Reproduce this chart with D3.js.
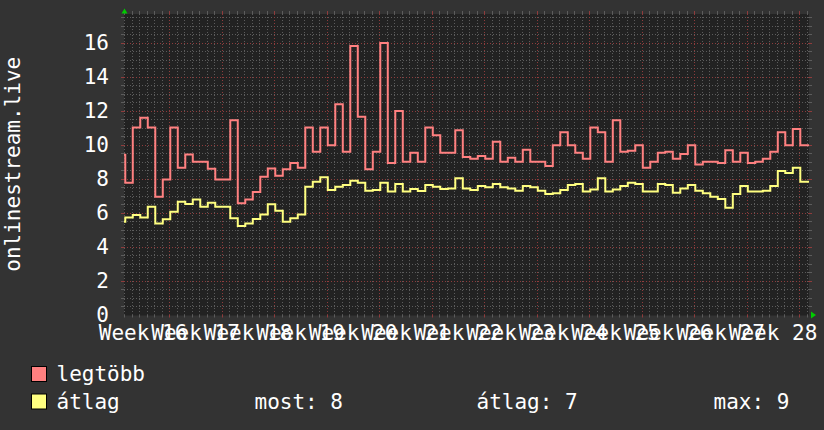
<!DOCTYPE html>
<html lang="hu">
<head>
<meta charset="UTF-8">
<title>onlinestream.live</title>
<style>
  html, body { margin: 0; padding: 0; background: #333333; }
  svg { display: block; }
  text { font-family: "DejaVu Sans Mono", monospace; fill: #ffffff; }
</style>
</head>
<body>
<div id="chart"></div>
<script src="https://d3js.org/d3.v7.min.js"></script>
<script>
// daily samples, first one starts one day before the first day line
const maxValues = [9.4, 7.75, 11.0, 11.57, 11.0, 6.93, 7.95, 11.0, 8.63, 9.41, 8.98,
  8.98, 8.57, 7.94, 7.94, 11.43, 6.54, 6.77, 7.2, 8.1, 8.59, 8.16, 8.55, 8.92, 8.63,
  11.0, 9.57, 11.0, 9.96, 12.37, 9.57, 15.8, 11.63, 8.55, 9.57, 15.98, 8.92, 11.98,
  8.98, 9.51, 8.98, 11.0, 10.55, 9.51, 9.51, 10.84, 9.27, 9.16, 9.33, 9.16, 10.16,
  8.98, 9.22, 8.98, 9.69, 8.98, 8.98, 8.73, 9.96, 10.73, 9.96, 9.51, 9.16, 11.0,
  10.73, 8.98, 11.43, 9.57, 9.63, 9.96, 8.63, 8.98, 9.51, 9.57, 9.16, 9.45, 9.96,
  8.82, 8.98, 8.98, 8.92, 9.67, 8.98, 9.51, 8.92, 8.98, 9.16, 9.57, 10.73, 9.96,
  10.92, 9.96, 9.96];
const avgValues = [5.45, 5.7, 5.85, 5.7, 6.34, 5.36, 5.6, 6.05, 6.64, 6.5, 6.77,
  6.34, 6.58, 6.34, 6.34, 5.66, 5.21, 5.36, 5.62, 5.89, 6.48, 6.11, 5.46, 5.66, 5.89,
  7.52, 7.81, 8.07, 7.32, 7.52, 7.62, 7.87, 7.75, 7.28, 7.32, 7.75, 7.23, 7.68,
  7.23, 7.38, 7.26, 7.62, 7.52, 7.38, 7.42, 8.01, 7.42, 7.32, 7.56, 7.48, 7.68,
  7.48, 7.42, 7.28, 7.56, 7.48, 7.28, 7.09, 7.13, 7.32, 7.62, 7.68, 7.23, 7.36,
  8.01, 7.23, 7.36, 7.56, 7.75, 7.68, 7.23, 7.23, 7.68, 7.62, 7.17, 7.42, 7.62,
  7.28, 7.13, 6.93, 6.79, 6.28, 7.09, 7.56, 7.23, 7.23, 7.28, 7.56, 8.45, 8.33,
  8.63, 7.81, 7.81];
const weekLabels = ["Week 16", "Week 17", "Week 18", "Week 19", "Week 20", "Week 21",
  "Week 22", "Week 23", "Week 24", "Week 25", "Week 26", "Week 27", "Week 28"];
const yTicks = [0, 2, 4, 6, 8, 10, 12, 14, 16];
const seriesNames = ["legtöbb", "átlag"];
const seriesColors = ["#ff8080", "#ffff80"];
const summary = [["most", 8], ["átlag", 7], ["max", 9]];

function drawChart() {
  const width = 824, height = 430;
  const pL = 124, pR = 809, pT = 14, pB = 314.5;
  const firstWeekStart = -1;   // day index where week 16 begins
  const sampleShift = 0.13;    // samples sit a pixel late against the day lines

  const x = d3.scaleLinear().domain([-0.04, 91.29]).range([pL, pR]);
  const y = d3.scaleLinear().domain([0, 17.68]).range([pB, pT]);

  const svg = d3.select("#chart").append("svg")
    .attr("width", width)
    .attr("height", height)
    .style("font-size", "21px");

  svg.append("rect").attr("width", width).attr("height", height).attr("fill", "#333333");
  svg.append("rect")
    .attr("x", pL).attr("y", pT)
    .attr("width", pR - pL).attr("height", pB - pT + 1)
    .attr("fill", "#222222");

  const minorColor = "#5c5c5c", majorColor = "#8e3c3c";
  const crisp = v => Math.round(v) + 0.5;

  const grid = svg.append("g").attr("stroke-width", 1);
  function hLines(vals, color) {
    const g = grid.append("g").attr("stroke", color);
    g.selectAll("line.d").data(vals).join("line")
      .attr("class", "d")
      .attr("x1", pL).attr("x2", pR)
      .attr("y1", d => crisp(y(d))).attr("y2", d => crisp(y(d)))
      .attr("stroke-dasharray", "1,2");
    g.selectAll("line.tl").data(vals).join("line")
      .attr("class", "tl")
      .attr("x1", pL - 3).attr("x2", pL)
      .attr("y1", d => crisp(y(d))).attr("y2", d => crisp(y(d)));
    g.selectAll("line.tr").data(vals).join("line")
      .attr("class", "tr")
      .attr("x1", pR).attr("x2", pR + 3)
      .attr("y1", d => crisp(y(d))).attr("y2", d => crisp(y(d)));
  }
  function vLines(vals, color) {
    const g = grid.append("g").attr("stroke", color);
    g.selectAll("line.d").data(vals).join("line")
      .attr("class", "d")
      .attr("y1", pT).attr("y2", pB)
      .attr("x1", d => crisp(x(d))).attr("x2", d => crisp(x(d)))
      .attr("stroke-dasharray", "1,2");
    g.selectAll("line.tt").data(vals).join("line")
      .attr("class", "tt")
      .attr("y1", pT - 3).attr("y2", pT)
      .attr("x1", d => crisp(x(d))).attr("x2", d => crisp(x(d)));
    g.selectAll("line.tb").data(vals).join("line")
      .attr("class", "tb")
      .attr("y1", pB).attr("y2", pB + 3)
      .attr("x1", d => crisp(x(d))).attr("x2", d => crisp(x(d)));
  }
  const hMinor = d3.range(0.5, 17.6, 0.5).filter(v => v % 2 !== 0);
  const weekStarts = weekLabels.map((d, i) => firstWeekStart + 7 * (i + 1)).filter(t => t <= 91);
  const days = d3.range(0, 92).filter(t => !weekStarts.includes(t));
  hLines(hMinor, minorColor);
  vLines(days, minorColor);
  hLines(yTicks.slice(1), majorColor);
  vLines(weekStarts, majorColor);

  // data lines
  svg.append("clipPath").attr("id", "plot")
    .append("rect").attr("x", pL).attr("y", pT - 2)
    .attr("width", pR - pL).attr("height", pB - pT + 4);

  const line = d3.line()
    .x(d => x(d[0]))
    .y(d => y(d[1]))
    .curve(d3.curveStepAfter);
  function toPoints(vals) {
    const pts = vals.map((v, i) => [i - 1 + sampleShift, v]);
    pts.push([vals.length - 1 + sampleShift, vals[vals.length - 1]]);
    return pts;
  }
  [maxValues, avgValues].forEach((vals, i) => {
    svg.append("path")
      .attr("clip-path", "url(#plot)")
      .attr("d", line(toPoints(vals)))
      .attr("fill", "none")
      .attr("stroke", seriesColors[i])
      .attr("stroke-width", 2)
      .attr("stroke-linejoin", "miter");
  });

  // y axis labels
  svg.append("g")
    .attr("text-anchor", "end")
    .selectAll("text")
    .data(yTicks)
    .join("text")
    .attr("x", 109)
    .attr("y", d => y(d) + 7.6)
    .text(d => d);

  // x axis labels, centred on each week (they overlap, as in the original)
  svg.append("g")
    .attr("text-anchor", "middle")
    .selectAll("text")
    .data(weekLabels)
    .join("text")
    .attr("x", (d, i) => x(firstWeekStart + 3.5 + 7 * i))
    .attr("y", 340)
    .text(d => d);

  // y title
  svg.append("text")
    .attr("transform", `translate(20,${(pT + pB) / 2}) rotate(-90)`)
    .attr("text-anchor", "middle")
    .text("onlinestream.live");

  // green arrows
  svg.append("path")
    .attr("d", `M${pL - 2.5},${pT - 0.5} L${pL + 0.5},${pT - 5.5} L${pL + 3.5},${pT - 0.5} Z`)
    .attr("fill", "#00cc00");
  svg.append("path")
    .attr("d", `M${pR + 2},${pB - 3} L${pR + 7},${pB + 0.5} L${pR + 2},${pB + 4} Z`)
    .attr("fill", "#00cc00");

  // legend
  const legend = svg.append("g");
  seriesNames.forEach((name, i) => {
    const yy = 366 + i * 27.5;
    legend.append("rect")
      .attr("x", 31.5).attr("y", yy + 0.5)
      .attr("width", 15).attr("height", 15)
      .attr("fill", seriesColors[i])
      .attr("stroke", "#000").attr("stroke-width", 1);
    legend.append("text").attr("x", 56.5).attr("y", yy + 15).text(name);
  });
  const summaryX = [254.5, 476.5, 713.5];
  summary.forEach(([label, val], i) => {
    legend.append("text").attr("x", summaryX[i]).attr("y", 408.5).text(`${label}: ${val}`);
  });
}

document.addEventListener("DOMContentLoaded", drawChart);
</script>
</body>
</html>
